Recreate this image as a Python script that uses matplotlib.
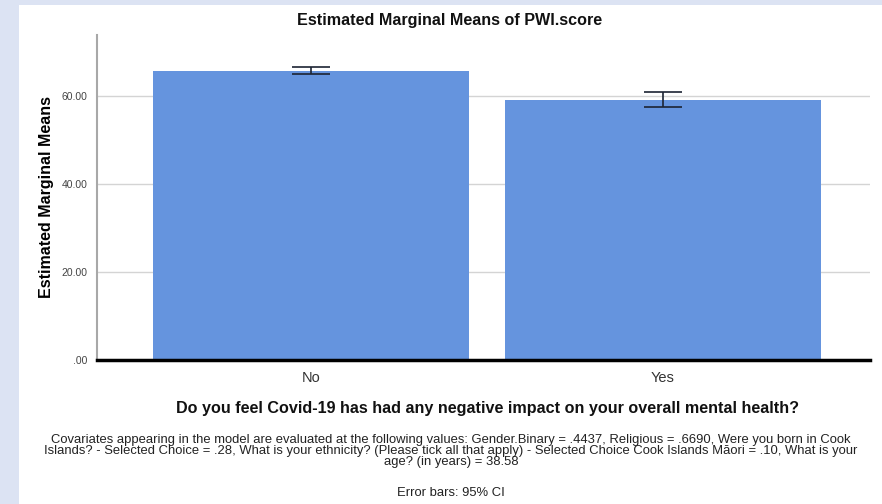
import matplotlib
matplotlib.use("Agg")
import matplotlib.pyplot as plt
from matplotlib.patches import Rectangle
from matplotlib.ticker import FuncFormatter
import numpy as np

plt.rcParams['font.family'] = ['Liberation Sans', 'DejaVu Sans']

categories = ["No", "Yes"]
means = [65.9, 59.3]
ci_low = [65.2, 57.5]
ci_high = [66.8, 61.1]
yticks = [0, 20, 40, 60]

footnote = ("Covariates appearing in the model are evaluated at the following values: Gender.Binary = .4437, Religious = .6690, Were you born in Cook\n"
            "Islands? - Selected Choice = .28, What is your ethnicity? (Please tick all that apply) - Selected Choice Cook Islands M\u0101ori = .10, What is your\n"
            "age? (in years) = 38.58")

fig = plt.figure(figsize=(8.82, 5.04), dpi=100)
fig.patch.set_facecolor("#dce3f3")
# white panel behind everything
fig.patches.append(Rectangle((19/882, 0), 1, (504-5)/504, transform=fig.transFigure,
                             facecolor="white", edgecolor="none", zorder=-10))

ax = fig.add_axes([97/882, 1-360/504, (870-97)/882, (360-35)/504])
ax.set_facecolor("none")

x = np.arange(len(categories))
m = np.array(means)
yerr = np.array([m - np.array(ci_low), np.array(ci_high) - m])
ax.bar(x, m, width=0.9, color="#6594de", edgecolor="none", zorder=2)
ax.errorbar(x, m, yerr=yerr, fmt="none", ecolor="#1c2433", elinewidth=1.2,
            capsize=13.5, capthick=1.2, zorder=3)

ax.set_xlim(-0.61, 1.59)
ax.set_ylim(0, 74)
ax.set_yticks(yticks)
ax.yaxis.set_major_formatter(FuncFormatter(lambda v, p: ".00" if v == 0 else "%.2f" % v))
ax.grid(axis="y", color="#d4d4d4", linewidth=1, zorder=1)
ax.set_axisbelow(True)
ax.set_xticks(x)
ax.set_xticklabels(categories, fontsize=10.5, color="#333333")
ax.tick_params(axis="y", length=0, labelsize=7.5, labelcolor="#444444", pad=7)
ax.tick_params(axis="x", length=0, pad=8)

for s in ["top", "right"]:
    ax.spines[s].set_visible(False)
ax.spines["left"].set_color("#a8a8a8")
ax.spines["left"].set_linewidth(1.5)
ax.spines["bottom"].set_color("black")
ax.spines["bottom"].set_linewidth(2.5)
ax.spines["bottom"].set_zorder(4)

ax.set_ylabel("Estimated Marginal Means", fontsize=11.5, fontweight="bold", labelpad=5)
fig.text(450/882, 1-20/504, "Estimated Marginal Means of PWI.score", ha="center", va="center",
         fontsize=11.6, fontweight="bold", color="#111111")
fig.text(488/882, 1-409/504, "Do you feel Covid-19 has had any negative impact on your overall mental health?",
         ha="center", va="center", fontsize=11.6, fontweight="bold", color="#111111")
fig.text(451/882, 1-451/504, footnote, ha="center", va="center", fontsize=9.4,
         linespacing=0.85, color="#222222")
fig.text(451/882, 1-493/504, "Error bars: 95% CI", ha="center", va="center", fontsize=9.4,
         color="#222222")

fig.savefig("out.png", dpi=100)
